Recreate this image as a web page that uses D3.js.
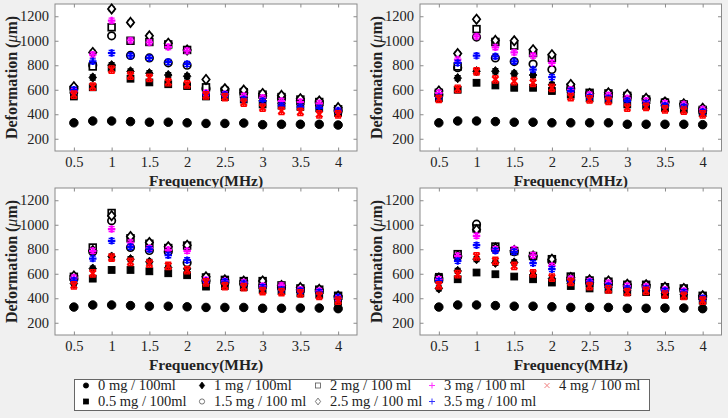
<!DOCTYPE html>
<html><head><meta charset="utf-8">
<script src="https://cdn.jsdelivr.net/npm/d3@7/dist/d3.min.js"></script>
<style>body{margin:0;background:#f0f0f0;}svg{display:block;}</style>
</head><body>
<svg id="c" width="728" height="418"></svg>
<script>
const freqs = [0.5,0.75,1,1.25,1.5,1.75,2,2.25,2.5,2.75,3,3.25,3.5,3.75,4];
const xTicks = [0.5,1,1.5,2,2.5,3,3.5,4];
const yTicks = [200,400,600,800,1000,1200];
const seriesNames = ["0 mg / 100ml","0.5 mg / 100ml","1 mg / 100ml","1.5 mg / 100 ml","2 mg / 100 ml","2.5 mg / 100 ml","3 mg / 100 ml","3.5 mg / 100 ml","4 mg / 100 ml"];
const seriesErr = [12,20,20,15,15,15,20,20,30];

// panel top-left
const panel1 = [
 [330,345,345,340,335,335,330,325,325,328,315,318,318,318,312],
 [545,620,780,690,660,645,630,545,540,520,480,470,460,450,410],
 [580,700,800,750,735,720,710,600,560,540,510,490,480,470,420],
 [610,800,1040,880,860,820,800,610,600,575,550,530,510,495,430],
 [600,790,1110,1000,990,970,925,620,590,580,560,540,520,500,440],
 [625,905,1260,1150,1040,980,925,684,608,597,570,554,527,508,454],
 [590,886,1165,1003,986,949,919,575,565,549,535,508,500,489,427],
 [600,832,900,878,860,827,811,565,560,522,508,470,460,450,430],
 [560,625,765,716,697,662,643,555,540,495,454,427,419,400,400]
];
// panel top-right
const panel2 = [
 [330,345,345,340,335,335,330,330,330,330,318,318,318,318,315],
 [530,600,657,635,616,616,590,560,530,520,480,470,450,440,410],
 [545,695,751,751,732,720,640,580,550,540,510,490,470,460,420],
 [560,780,1030,860,830,810,765,610,570,560,540,520,500,480,430],
 [575,790,1095,990,960,900,860,620,575,570,550,520,495,480,435],
 [590,895,1176,1003,1000,927,886,643,570,575,562,530,500,485,449],
 [575,846,1035,946,905,878,819,600,560,555,530,510,490,481,440],
 [540,819,878,873,832,765,703,590,540,530,510,490,470,460,420],
 [525,608,751,684,670,657,616,540,522,510,454,460,440,430,400]
];
// panel bottom-left
const panel3 = [
 [328,345,345,340,335,335,330,325,325,325,318,318,320,320,315],
 [570,560,631,631,620,604,588,495,500,490,470,460,440,430,370],
 [520,642,740,719,697,650,640,520,510,500,480,470,450,440,390],
 [560,780,1033,815,790,780,690,540,530,520,500,490,470,460,410],
 [575,814,1096,890,845,810,830,570,550,540,540,505,480,470,420],
 [582,790,1074,904,855,820,833,575,550,540,541,505,487,473,418],
 [569,787,965,855,810,795,787,550,540,530,500,505,470,460,400],
 [545,724,869,820,800,751,711,540,535,520,490,470,460,450,410],
 [506,604,732,697,683,664,629,530,500,490,459,450,440,420,380]
];
// panel bottom-right
const panel4 = [
 [328,345,345,340,335,335,330,325,325,325,318,318,320,320,315],
 [575,555,610,596,577,555,528,500,480,470,450,450,430,420,380],
 [480,623,719,690,692,590,560,520,500,490,460,460,440,430,390],
 [550,740,1005,800,780,740,705,550,530,520,500,500,480,470,410],
 [560,760,970,822,785,745,719,577,545,535,510,510,490,480,420],
 [565,745,960,810,790,745,719,570,550,541,514,510,490,480,420],
 [555,746,910,800,800,751,664,560,540,525,500,495,470,460,400],
 [540,705,833,787,779,686,637,540,530,500,480,480,460,450,400],
 [506,596,741,705,664,604,569,533,500,473,450,460,430,420,380]
];
const panelData = [panel1,panel2,panel3,panel4];

const svg = d3.select("#c");
const boxes = [
 {l:55,r:357,t:4,b:151},{l:420,r:721.5,t:4,b:151},
 {l:55,r:357,t:188,b:335},{l:420,r:721.5,t:188,b:335}
];
const axisCol = "#8a8a8a", textCol = "#222";
const font = "'Liberation Serif','Times New Roman',serif";

const styles = [
 {k:"circle",c:"#000",f:true},{k:"square",c:"#000",f:true},{k:"diamond",c:"#000",f:true},
 {k:"circle",c:"#000",f:false},{k:"square",c:"#000",f:false},{k:"diamond",c:"#000",f:false},
 {k:"plus",c:"#ff00ff",f:false},{k:"plus",c:"#0000ff",f:false},{k:"cross",c:"#ff0000",f:false}
];
function drawMarker(g,x,y,st,s){
  const c=st.c;
  if(st.k==="circle"){
    g.append("circle").attr("cx",x).attr("cy",y).attr("r",s*0.5)
     .attr("fill",st.f?c:"#fff").attr("stroke",c).attr("stroke-width",st.f?1:1.7);
  } else if(st.k==="square"){
    g.append("rect").attr("x",x-s*0.45).attr("y",y-s*0.45).attr("width",s*0.9).attr("height",s*0.9)
     .attr("fill",st.f?c:"#fff").attr("stroke",c).attr("stroke-width",st.f?1:1.7);
  } else if(st.k==="diamond"){
    const h=s*0.62;
    g.append("path").attr("d",`M${x},${y-h}L${x+h*0.8},${y}L${x},${y+h}L${x-h*0.8},${y}Z`)
     .attr("fill",st.f?c:"#fff").attr("stroke",c).attr("stroke-width",st.f?1:1.7);
  } else if(st.k==="plus"){
    const h=s*0.5;
    g.append("path").attr("d",`M${x-h},${y}H${x+h}M${x},${y-h}V${y+h}`)
     .attr("stroke",c).attr("stroke-width",st.w||2.2).attr("fill","none");
  } else if(st.k==="cross"){
    const h=s*0.42;
    g.append("path").attr("d",`M${x-h},${y-h}L${x+h},${y+h}M${x-h},${y+h}L${x+h},${y-h}`)
     .attr("stroke",c).attr("stroke-width",st.w||2.2).attr("fill","none");
  }
}

boxes.forEach((bx,pi)=>{
  const x=d3.scaleLinear().domain([0.25,4.25]).range([bx.l,bx.r]);
  const y=d3.scaleLinear().domain([100,1300]).range([bx.b,bx.t]);
  const g=svg.append("g");
  g.append("rect").attr("x",bx.l).attr("y",bx.t).attr("width",bx.r-bx.l).attr("height",bx.b-bx.t)
   .attr("fill","#fff");
  const ax=(gen,tr)=>{
    const a=g.append("g").attr("transform",tr).call(gen);
    a.select(".domain").remove();
    a.selectAll("line").attr("stroke",axisCol);
    a.selectAll("text").attr("fill",textCol).style("font-family",font).style("font-size","14.5px");
    return a;
  };
  ax(d3.axisBottom(x).tickValues(xTicks).tickSizeInner(-3.5).tickSizeOuter(0).tickPadding(6).tickFormat(d=>String(d)),`translate(0,${bx.b})`);
  ax(d3.axisTop(x).tickValues(xTicks).tickSizeInner(-3.5).tickSizeOuter(0).tickFormat(""),`translate(0,${bx.t})`);
  ax(d3.axisLeft(y).tickValues(yTicks).tickSizeInner(-3.5).tickSizeOuter(0).tickPadding(6).tickFormat(d=>String(d)),`translate(${bx.l},0)`);
  ax(d3.axisRight(y).tickValues(yTicks).tickSizeInner(-3.5).tickSizeOuter(0).tickFormat(""),`translate(${bx.r},0)`);
  g.append("rect").attr("x",bx.l).attr("y",bx.t).attr("width",bx.r-bx.l).attr("height",bx.b-bx.t)
   .attr("fill","none").attr("stroke",axisCol).attr("stroke-width",1);

  const data=panelData[pi];
  data.forEach((vals,si)=>{
    const st=styles[si], e=seriesErr[si];
    const sg=g.append("g");
    vals.forEach((v,fi)=>{
      const px=x(freqs[fi]), py=y(v), y1=y(v-e), y2=y(v+e);
      sg.append("path").attr("d",`M${px},${y1}V${y2}M${px-3},${y1}H${px+3}M${px-3},${y2}H${px+3}`)
        .attr("stroke",st.c).attr("stroke-width",1.4).attr("fill","none");
      drawMarker(sg,px,py,st,si===0?8.5:7.5);
    });
  });

  g.append("text").attr("x",(bx.l+bx.r)/2).attr("y",bx.b+35)
   .attr("text-anchor","middle").attr("font-family",font).attr("font-weight","bold")
   .attr("font-size","15.5px").attr("fill",textCol).text("Frequency(MHz)");
  const yl=g.append("text").attr("transform",`translate(${bx.l-38},${(bx.t+bx.b)/2}) rotate(-90)`)
   .attr("text-anchor","middle").attr("font-family",font).attr("font-weight","bold")
   .attr("font-size","16px").attr("fill",textCol);
  yl.append("tspan").text("Deformation (");
  yl.append("tspan").attr("font-style","italic").attr("font-weight","normal").text("\u03bc");
  yl.append("tspan").text("m)");
});

// legend
const lg=svg.append("g");
lg.append("rect").attr("x",74.5).attr("y",379.5).attr("width",575).attr("height",31)
 .attr("fill","#fff").attr("stroke","#666").attr("stroke-width",1);
const legCols=[86,202,318,432,547];
const legRows=[385.5,401.5];
const legOrder=[[0,2,4,6,8],[1,3,5,7]];
const legStyles=[
 {k:"circle",c:"#000",f:true},{k:"square",c:"#000",f:true},{k:"diamond",c:"#000",f:true},
 {k:"circle",c:"#555",f:false},{k:"square",c:"#555",f:false},{k:"diamond",c:"#555",f:false},
 {k:"plus",c:"#ff33ff",f:false,w:1},{k:"plus",c:"#3333ff",f:false,w:1},{k:"cross",c:"#f08080",f:false,w:1}
];
legOrder.forEach((row,ri)=>{
  row.forEach((si,ci)=>{
    const st=legStyles[si];
    const cx=legCols[ci], cy=legRows[ri];
    const gg=lg.append("g");
    if(st.k==="circle") gg.append("circle").attr("cx",cx).attr("cy",cy).attr("r",2.6).attr("fill",st.f?st.c:"#fff").attr("stroke",st.c).attr("stroke-width",0.8);
    else if(st.k==="square") gg.append("rect").attr("x",cx-2.5).attr("y",cy-2.5).attr("width",5).attr("height",5).attr("fill",st.f?st.c:"#fff").attr("stroke",st.c).attr("stroke-width",0.8);
    else if(st.k==="diamond") gg.append("path").attr("d",`M${cx},${cy-3.4}L${cx+2.6},${cy}L${cx},${cy+3.4}L${cx-2.6},${cy}Z`).attr("fill",st.f?st.c:"#fff").attr("stroke",st.c).attr("stroke-width",0.8);
    else drawMarker(gg,cx,cy,st,6);
    lg.append("text").attr("x",cx+12).attr("y",cy+4.5).attr("font-family",font)
      .attr("font-size","14.5px").attr("fill",textCol).text(seriesNames[si]);
  });
});
</script>
</body></html>
